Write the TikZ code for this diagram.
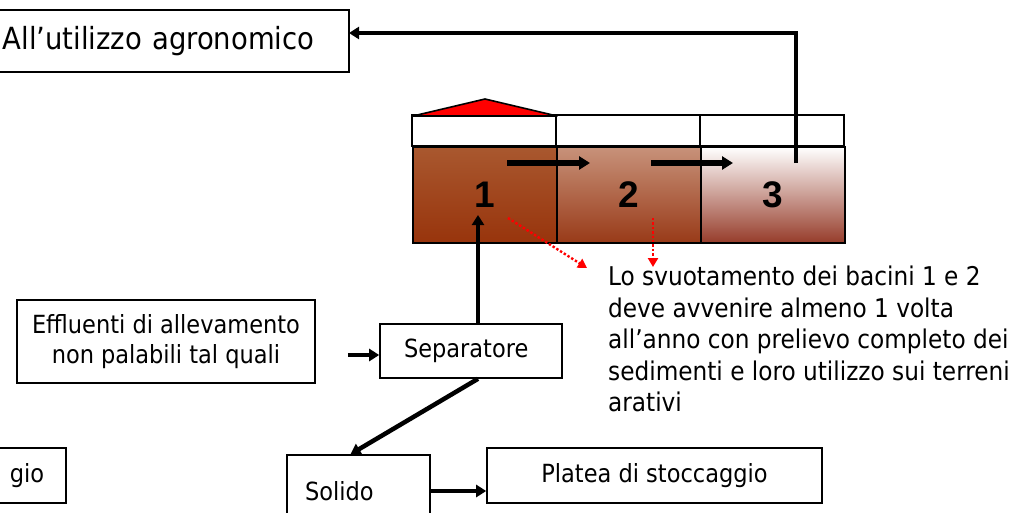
\documentclass[tikz,border=0pt]{standalone}
\usepackage{fontspec}
\IfFontExistsTF{DejaVu Sans Condensed}{\setmainfont{DejaVu Sans Condensed}}{\setmainfont{DejaVu Sans}}
\newfontfamily\digitfont{Liberation Sans}
\usetikzlibrary{arrows.meta,calc}

\definecolor{tankAtop}{HTML}{A9582F}
\definecolor{tankAbot}{HTML}{98340C}
\definecolor{tankBtop}{HTML}{C8927A}
\definecolor{tankBbot}{HTML}{983A18}
\definecolor{tankCmid}{HTML}{E8DEDE}
\definecolor{tankCbot}{HTML}{963C2A}

\begin{document}
\begin{tikzpicture}[x=1pt,y=-1pt,
    box/.style={draw, line width=1.6pt, inner sep=0pt, font=\fontsize{25}{30}\selectfont},
    tank/.style={draw, line width=1.6pt, minimum width=144pt, minimum height=96pt, inner sep=0pt,
                 font=\digitfont\bfseries\fontsize{37}{37}\selectfont},
    flow/.style={line width=4.5pt, -{Triangle[length=10pt,width=12pt]}},
    pipe/.style={line width=5.5pt, -{Triangle[length=11pt,width=13pt]}},
    hint/.style={red, line width=2.4pt, dotted, -{Triangle[length=9pt,width=10pt]}},
    note/.style={align=left, inner sep=0pt, font=\fontsize{25.8}{31.5}\selectfont}]

  \useasboundingbox (0,0) rectangle (1025,512);

  % vasche
  \node[tank, top color=tankAtop, bottom color=tankAbot] (t1) at (485,195) {1};
  \node[tank, top color=tankBtop, bottom color=tankBbot] (t2) at (629,195) {2};
  \node[tank, top color=white, middle color=tankCmid, bottom color=tankCbot] (t3) at (773,195) {3};

  \draw[line width=1.6pt] (t1.north west) rectangle ++(144,-31);
  \draw[line width=1.6pt] (t2.north west) rectangle ++(144,-31);
  \draw[line width=1.6pt] (t3.north west) rectangle ++(144,-31);
  \filldraw[fill=red, line width=1.6pt, line join=round] (413,116) -- (485,99) -- (557,116) -- cycle;

  % riquadri
  \node[inner sep=0pt, minimum height=62pt, anchor=east, text width=346pt, align=left,
        font=\fontsize{30.5}{34}\selectfont] (agro) at (349,41) {All’utilizzo agronomico};
  \draw[line width=1.6pt] ([xshift=-20pt]agro.north west) -| (agro.south east) -- ([xshift=-20pt]agro.south west);
  \node[box, minimum width=298pt, minimum height=83pt, align=center] (eff) at (166,341.5)
       {Effluenti di allevamento\\non palabili tal quali};
  \node[box, minimum width=182pt, minimum height=54pt, text width=134pt, align=left] (sep) at (471,351) {Separatore};
  \node[box, minimum width=143pt, minimum height=72pt, text width=107pt, align=left] (sol) at (358.5,491) {Solido};
  \node[box, minimum width=335pt, minimum height=55pt] (plat) at (654.5,475.5) {Platea di stoccaggio};
  \node[box, minimum width=200pt, minimum height=55pt, anchor=east, text width=156pt, align=right] (stock) at (67,475.5) {gio};

  \node[note, anchor=north west] (note) at (608,266)
       {Lo svuotamento dei bacini 1 e 2\\deve avvenire almeno 1 volta\\all’anno con prelievo completo dei\\sedimenti e loro utilizzo sui terreni\\arativi};

  % collegamenti
  \coordinate (in1) at (478,215);
  \coordinate (f1) at (507,163);
  \coordinate (f2) at (590,163);
  \coordinate (f3) at (651,163);
  \coordinate (f4) at (733,163);
  \coordinate (out3) at (796,163);
  \coordinate (ret) at (796,33);

  \draw[pipe] (f1) -- (f2);
  \draw[pipe] (f3) -- (f4);
  \draw[flow] (out3) -- (ret) -- (ret -| agro.east);
  \draw[flow] (sep.north -| in1) -- (in1);
  \draw[flow] ([xshift=32pt]eff.east |- 0,355) -- (sep.west |- 0,355);
  \draw[flow] ([xshift=7pt]sep.south) -- ([xshift=-8pt]sol.north);
  \draw[flow] (sol.east) -- (sol.east -| plat.west);

  \coordinate (d1) at (508,218);
  \coordinate (d2) at (653,218);
  \draw[hint] (d1) -- (587,268);
  \draw[hint] (d2) -- (d2 |- 0,267);

\end{tikzpicture}
\end{document}
